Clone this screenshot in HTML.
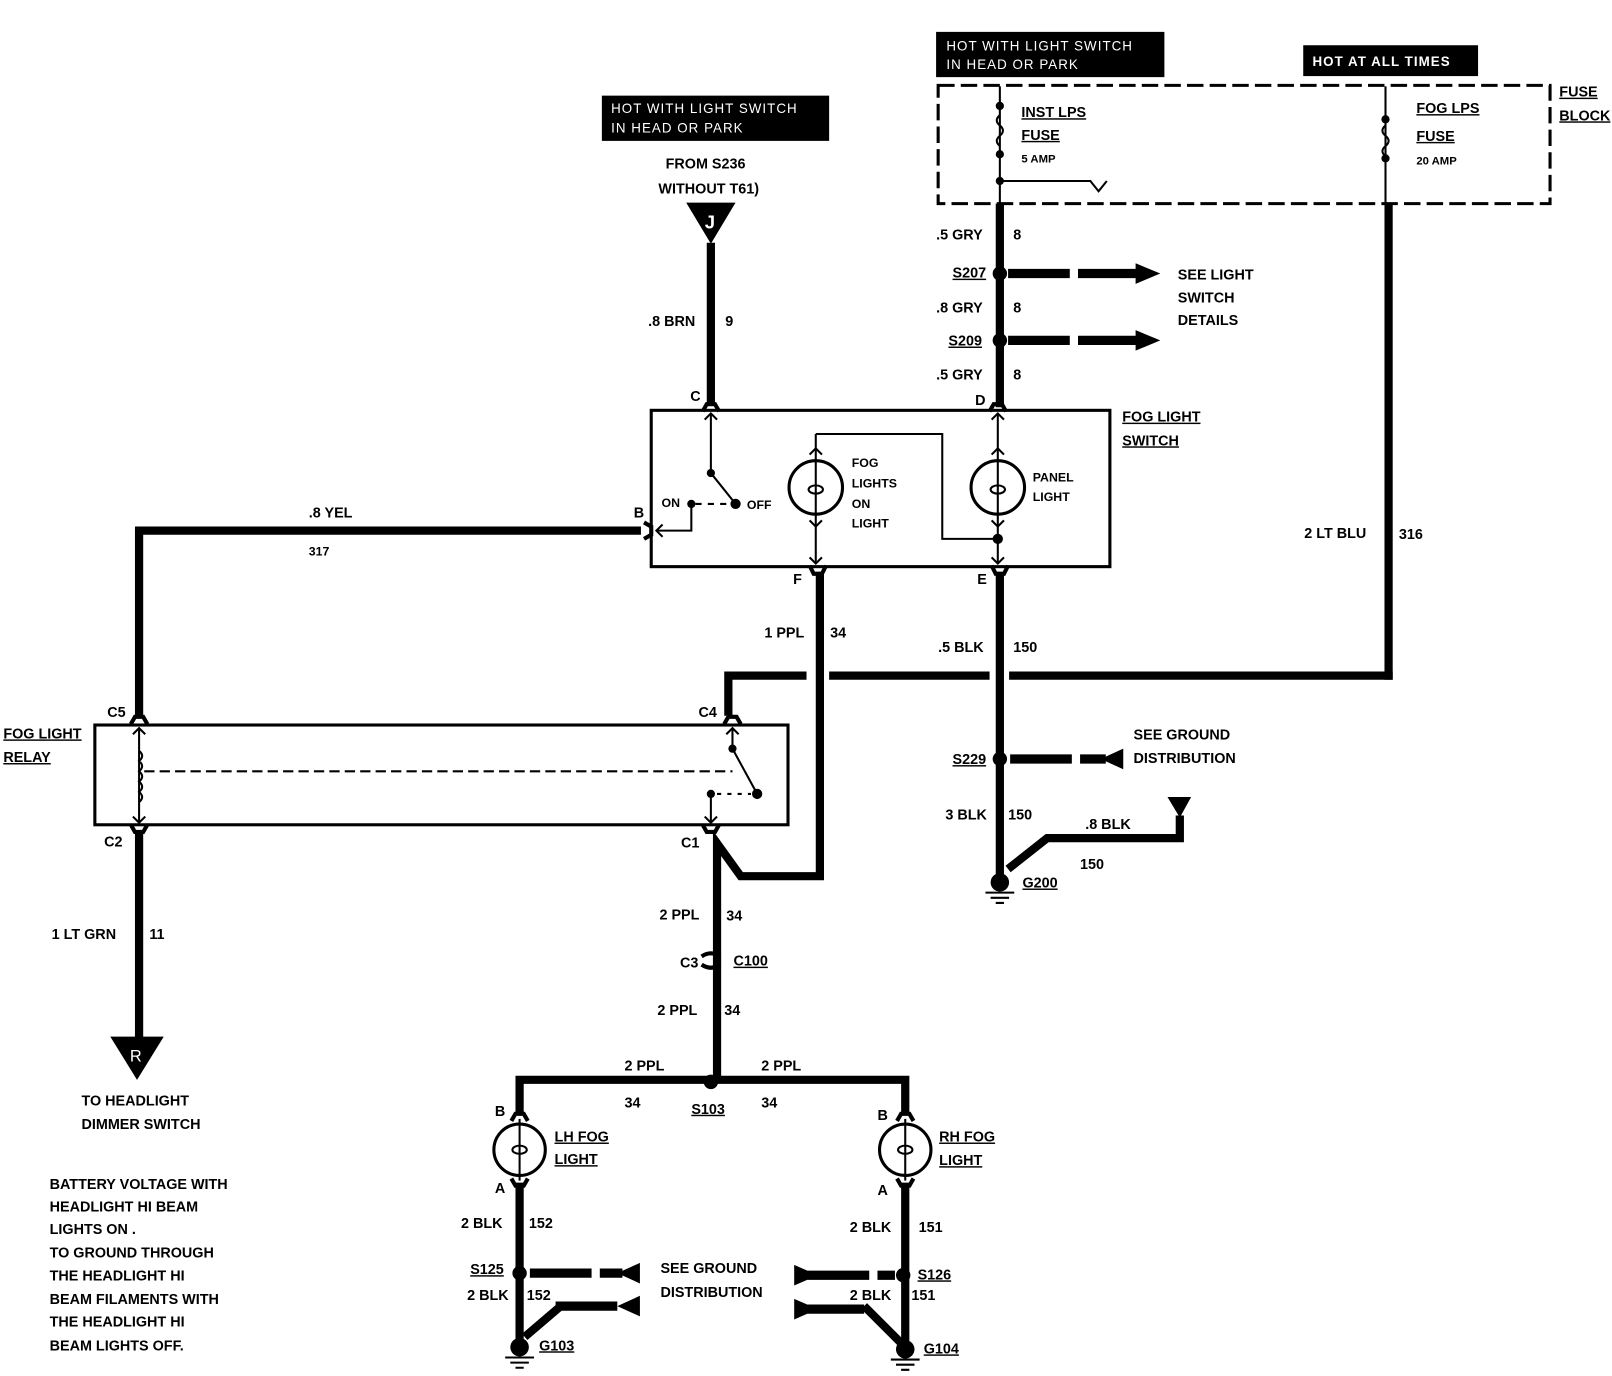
<!DOCTYPE html>
<html><head><meta charset="utf-8"><style>
html,body{margin:0;padding:0;background:#fff;}
svg{display:block;}
text{font-family:"Liberation Sans",sans-serif;font-weight:bold;font-size:14px;fill:#000;}
.w{fill:#fff;font-weight:normal;font-size:13px;letter-spacing:1px;}
.u{text-decoration:underline;}
</style></head><body>
<svg width="1612" height="1376" viewBox="0 0 1567 1338" xmlns="http://www.w3.org/2000/svg">
<g fill="none" stroke="#000">
<!-- fuse block -->
<rect x="912" y="83" width="595" height="115" stroke-width="3" stroke-dasharray="16,6"/>
<line x1="972" y1="84" x2="972" y2="198" stroke-width="2"/>
<path d="M972 112 q-6 5 0 10 q6 5 0 10 q-6 5 0 10" stroke-width="2"/>
<path d="M972 176 H1060 L1068 186 L1076 176" stroke-width="2"/>
<line x1="1347" y1="84" x2="1347" y2="198" stroke-width="2"/>
<path d="M1347 122 q-6 5 0 10 q6 5 0 10 q-6 5 0 10" stroke-width="2"/>
<!-- thick wires -->
<g stroke-width="8">
<line x1="1350" y1="198" x2="1350" y2="661"/>
<path d="M1354 657 H981 M962 657 H806 M784 657 H708 V696"/>
<line x1="972" y1="198" x2="972" y2="396"/>
<line x1="691" y1="236" x2="691" y2="392"/>
<path d="M623 516 H135 V696"/>
<path d="M797 556 V852 H720 L697 820 V1052"/>
<line x1="972" y1="556" x2="972" y2="858"/>
<path d="M980 845 L1018 815 H1147 V793"/>
<line x1="135" y1="808" x2="135" y2="1012"/>
<path d="M505 1082 V1050 H880 V1082"/>
<line x1="505" y1="1150" x2="505" y2="1310"/>
<line x1="880" y1="1150" x2="880" y2="1310"/>
<path d="M545 1270 L510 1300"/>
<path d="M840 1270 L875 1305"/>
</g>
<!-- dashed arrows -->
<g stroke-width="9" stroke-dasharray="60,8">
<line x1="980" y1="266" x2="1108" y2="266"/>
<line x1="980" y1="331" x2="1108" y2="331"/>
<line x1="982" y1="738" x2="1075" y2="738"/>
<line x1="515" y1="1238" x2="605" y2="1238"/>
<line x1="540" y1="1270" x2="605" y2="1270"/>
<line x1="785" y1="1240" x2="870" y2="1240"/>
<line x1="785" y1="1273" x2="840" y2="1273"/>
</g>
<!-- boxes -->
<rect x="633" y="399" width="446" height="152" stroke-width="3"/>
<rect x="92" y="705" width="674" height="97" stroke-width="3"/>
<!-- switch internals -->
<g stroke-width="2">
<line x1="691" y1="402" x2="691" y2="460"/>
<line x1="691" y1="460" x2="715" y2="490"/>
<line x1="676" y1="490" x2="712" y2="490" stroke-dasharray="6,6"/>
<path d="M672 490 V516 H638"/>
<path d="M644 510 L638 516 L644 522"/>
<path d="M685 408 L691 402 L697 408"/>
<circle cx="793" cy="474" r="26" stroke-width="3"/>
<circle cx="970" cy="474" r="26" stroke-width="3"/>
<line x1="793" y1="422" x2="793" y2="548"/>
<line x1="970" y1="402" x2="970" y2="548"/>
<path d="M793 422 H916 V524 H970"/>
<path d="M787 442 L793 436 L799 442 M787 506 L793 512 L799 506 M787 542 L793 548 L799 542"/>
<path d="M964 408 L970 402 L976 408 M964 442 L970 436 L976 442 M964 506 L970 512 L976 506 M964 542 L970 548 L976 542"/>
<ellipse cx="793" cy="476" rx="7" ry="4"/>
<ellipse cx="970" cy="476" rx="7" ry="4"/>
<!-- relay internals -->
<line x1="135" y1="708" x2="135" y2="800"/>
<path d="M129 714 L135 708 L141 714 M129 794 L135 800 L141 794"/>
<path d="M135 730 q6 5 0 10 q6 5 0 10 q6 5 0 10 q6 5 0 10 q6 5 0 10"/>
<line x1="140" y1="750" x2="712" y2="750" stroke-dasharray="10,5"/>
<line x1="712" y1="708" x2="712" y2="728"/>
<line x1="712" y1="728" x2="736" y2="772"/>
<path d="M706 714 L712 708 L718 714"/>
<line x1="691" y1="772" x2="691" y2="800"/>
<path d="M685 794 L691 800 L697 794"/>
<line x1="697" y1="772" x2="730" y2="772" stroke-dasharray="4,6"/>
<!-- bulbs -->
<circle cx="505" cy="1118" r="25" stroke-width="3"/>
<circle cx="880" cy="1118" r="25" stroke-width="3"/>
<line x1="505" y1="1088" x2="505" y2="1148"/>
<line x1="880" y1="1088" x2="880" y2="1148"/>
<ellipse cx="505" cy="1118" rx="7" ry="4"/>
<ellipse cx="880" cy="1118" rx="7" ry="4"/>
</g>
<!-- connector forks -->
<g stroke-width="4">
<path d="M683 400 L687 393 H695 L699 400"/>
<path d="M962 400 L966 393 H974 L978 400"/>
<path d="M626 508 L633 512 V520 L626 524"/>
<path d="M787 550 L791 558 H799 L803 550"/>
<path d="M964 550 L968 558 H976 L980 550"/>
<path d="M127 704 L131 697 H139 L143 704"/>
<path d="M704 704 L708 697 H716 L720 704"/>
<path d="M127 802 L131 809 H139 L143 802"/>
<path d="M683 802 L687 809 H695 L699 802"/>
<path d="M497 1090 L501 1083 H509 L513 1090"/>
<path d="M872 1090 L876 1083 H884 L888 1090"/>
<path d="M497 1146 L501 1153 H509 L513 1146"/>
<path d="M872 1146 L876 1153 H884 L888 1146"/>
<path d="M682 930 Q691 924 700 930 M682 938 Q691 944 700 938"/>
</g>
<!-- grounds -->
<g stroke-width="2">
<path d="M958 868 H986 M963 873 H981 M968 878 H976"/>
<path d="M491 1320 H519 M496 1325 H514 M501 1330 H509"/>
<path d="M866 1322 H894 M871 1327 H889 M876 1332 H884"/>
</g>
</g>
<g fill="#000">
<circle cx="972" cy="103" r="4"/><circle cx="972" cy="150" r="4"/><circle cx="972" cy="176" r="4"/>
<circle cx="1347" cy="116" r="4"/><circle cx="1347" cy="154" r="4"/>
<circle cx="972" cy="266" r="7"/><circle cx="972" cy="331" r="7"/><circle cx="972" cy="738" r="7"/>
<circle cx="691" cy="1052" r="7"/><circle cx="505" cy="1238" r="7"/><circle cx="878" cy="1240" r="7"/>
<circle cx="972" cy="858" r="9"/><circle cx="505" cy="1310" r="9"/><circle cx="880" cy="1312" r="9"/>
<circle cx="691" cy="460" r="4"/><circle cx="715" cy="490" r="5"/><circle cx="672" cy="490" r="4"/><circle cx="970" cy="524" r="5"/>
<circle cx="712" cy="728" r="4"/><circle cx="736" cy="772" r="5"/><circle cx="691" cy="772" r="4"/>
<polygon points="1104,256 1128,266 1104,276"/><polygon points="1104,321 1128,331 1104,341"/>
<polygon points="1092,728 1070,738 1092,748"/>
<polygon points="622,1228 600,1238 622,1248"/><polygon points="622,1260 600,1270 622,1280"/>
<polygon points="772,1230 795,1240 772,1250"/><polygon points="772,1263 795,1273 772,1283"/>
<polygon points="667,197 715,197 691,237"/>
<polygon points="107,1008 159,1008 133,1050"/>
<polygon points="1135,775 1158,775 1147,795"/>
<rect x="585" y="93" width="221" height="44"/>
<rect x="910" y="31" width="222" height="44"/>
<rect x="1267" y="44" width="170" height="30"/>
</g>
<text class="w" x="594" y="110">HOT WITH LIGHT SWITCH</text>
<text class="w" x="594" y="129">IN HEAD OR PARK</text>
<text class="w" x="920" y="49">HOT WITH LIGHT SWITCH</text>
<text class="w" x="920" y="67">IN HEAD OR PARK</text>
<text class="w" x="1276" y="64" style="font-weight:bold">HOT AT ALL TIMES</text>
<text x="685" y="222" style="fill:#fff;font-size:18px">J</text>
<text x="126" y="1032" style="fill:#fff;font-size:16px;font-weight:normal">R</text>
<g>
<text class="u" x="993" y="114">INST LPS</text>
<text class="u" x="993" y="136">FUSE</text>
<text x="993" y="158" style="font-size:11px">5 AMP</text>
<text class="u" x="1377" y="110">FOG LPS</text>
<text class="u" x="1377" y="137">FUSE</text>
<text x="1377" y="160" style="font-size:11px">20 AMP</text>
<text class="u" x="1516" y="94">FUSE</text>
<text class="u" x="1516" y="117">BLOCK</text>
<text x="647" y="164">FROM S236</text>
<text x="640" y="188">WITHOUT T61)</text>
<text x="630" y="317">.8 BRN</text><text x="705" y="317">9</text>
<text x="671" y="390">C</text><text x="948" y="394">D</text>
<text x="910" y="233">.5 GRY</text><text x="985" y="233">8</text>
<text class="u" x="926" y="270">S207</text>
<text x="910" y="304">.8 GRY</text><text x="985" y="304">8</text>
<text class="u" x="922" y="336">S209</text>
<text x="910" y="369">.5 GRY</text><text x="985" y="369">8</text>
<text x="1145" y="272">SEE LIGHT</text>
<text x="1145" y="294">SWITCH</text>
<text x="1145" y="316">DETAILS</text>
<text class="u" x="1091" y="410">FOG LIGHT</text>
<text class="u" x="1091" y="433">SWITCH</text>
<text x="643" y="493" style="font-size:12px">ON</text>
<text x="726" y="495" style="font-size:12px">OFF</text>
<text x="828" y="454" style="font-size:12px">FOG</text>
<text x="828" y="474" style="font-size:12px">LIGHTS</text>
<text x="828" y="494" style="font-size:12px">ON</text>
<text x="828" y="513" style="font-size:12px">LIGHT</text>
<text x="1004" y="468" style="font-size:12px">PANEL</text>
<text x="1004" y="487" style="font-size:12px">LIGHT</text>
<text x="616" y="503">B</text>
<text x="300" y="503">.8 YEL</text><text x="300" y="540" style="font-size:12px">317</text>
<text x="771" y="568">F</text><text x="950" y="568">E</text>
<text x="743" y="620">1 PPL</text><text x="807" y="620">34</text>
<text x="912" y="634">.5 BLK</text><text x="985" y="634">150</text>
<text x="1268" y="523">2 LT BLU</text><text x="1360" y="524">316</text>
<text class="u" x="3" y="718">FOG LIGHT</text>
<text class="u" x="3" y="741">RELAY</text>
<text x="104" y="697">C5</text><text x="679" y="697">C4</text>
<text x="101" y="823">C2</text><text x="662" y="824">C1</text>
<text x="1102" y="719">SEE GROUND</text>
<text x="1102" y="742">DISTRIBUTION</text>
<text class="u" x="926" y="743">S229</text>
<text x="919" y="797">3 BLK</text><text x="980" y="797">150</text>
<text x="1055" y="806">.8 BLK</text><text x="1050" y="845">150</text>
<text class="u" x="994" y="863">G200</text>
<text x="50" y="913">1 LT GRN</text><text x="145" y="913">11</text>
<text x="79" y="1075">TO HEADLIGHT</text>
<text x="79" y="1098">DIMMER SWITCH</text>
<text x="641" y="894">2 PPL</text><text x="706" y="895">34</text>
<text x="661" y="941">C3</text><text class="u" x="713" y="939">C100</text>
<text x="639" y="987">2 PPL</text><text x="704" y="987">34</text>
<text x="607" y="1041">2 PPL</text><text x="740" y="1041">2 PPL</text>
<text x="607" y="1077">34</text><text x="740" y="1077">34</text>
<text class="u" x="672" y="1083">S103</text>
<text x="481" y="1085">B</text><text x="481" y="1160">A</text>
<text x="853" y="1089">B</text><text x="853" y="1162">A</text>
<text class="u" x="539" y="1110">LH FOG</text><text class="u" x="539" y="1132">LIGHT</text>
<text class="u" x="913" y="1110">RH FOG</text><text class="u" x="913" y="1133">LIGHT</text>
<text x="448" y="1194">2 BLK</text><text x="514" y="1194">152</text>
<text x="826" y="1198">2 BLK</text><text x="893" y="1198">151</text>
<text class="u" x="457" y="1239">S125</text>
<text class="u" x="892" y="1244">S126</text>
<text x="454" y="1264">2 BLK</text><text x="512" y="1264">152</text>
<text x="826" y="1264">2 BLK</text><text x="886" y="1264">151</text>
<text x="642" y="1238">SEE GROUND</text>
<text x="642" y="1261">DISTRIBUTION</text>
<text class="u" x="524" y="1313">G103</text>
<text class="u" x="898" y="1316">G104</text>
<text x="48" y="1156">BATTERY VOLTAGE WITH</text>
<text x="48" y="1178">HEADLIGHT HI BEAM</text>
<text x="48" y="1200">LIGHTS ON .</text>
<text x="48" y="1223">TO GROUND THROUGH</text>
<text x="48" y="1245">THE HEADLIGHT HI</text>
<text x="48" y="1268">BEAM FILAMENTS WITH</text>
<text x="48" y="1290">THE HEADLIGHT HI</text>
<text x="48" y="1313">BEAM LIGHTS OFF.</text>
</g>
</svg>
</body></html>
